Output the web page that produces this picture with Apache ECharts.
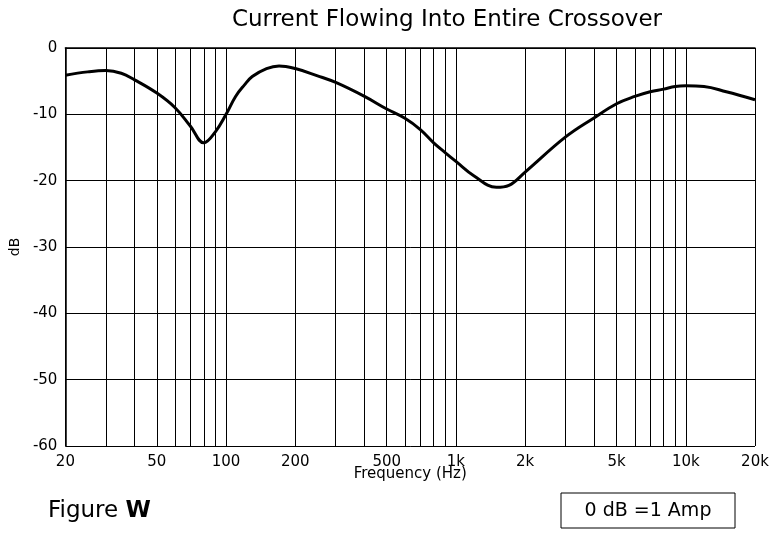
<!DOCTYPE html>
<html lang="en">
<head>
<meta charset="UTF-8" />
<title>Current Flowing Into Entire Crossover</title>
<script src="https://cdn.jsdelivr.net/npm/echarts@6/dist/echarts.min.js"></script>
<style>
  html, body { margin: 0; padding: 0; background: #fff; }
  #main { width: 770px; height: 544px; }
</style>
</head>
<body>
<div id="main"></div>
<script>
// frequency (Hz) and level (dB)
var freqs = [20, 25, 30, 35, 40, 50, 60, 70, 80, 90, 100, 110, 120, 130, 150, 170, 200, 250, 300, 400,
  500, 600, 700, 800, 900, 1000, 1200, 1500, 1700, 2000, 3000, 4000, 5000, 6000, 7000, 8000, 9000,
  10000, 12000, 15000, 20000];
var levels = [-4.1, -3.6, -3.4, -3.8, -4.8, -6.8, -9.0, -11.8, -14.3, -12.6, -10.0, -7.3, -5.6, -4.3,
  -3.1, -2.7, -3.1, -4.2, -5.2, -7.3, -9.2, -10.6, -12.3, -14.3, -15.8, -17.1, -19.3, -21.0, -20.7,
  -18.7, -13.4, -10.5, -8.4, -7.3, -6.6, -6.2, -5.8, -5.7, -5.8, -6.6, -7.8];

// vertical grid lines (1..9 per decade) and the ones that carry a label
var gridFreqs = [20, 30, 40, 50, 60, 70, 80, 90, 100, 200, 300, 400, 500, 600, 700, 800, 900,
  1000, 2000, 3000, 4000, 5000, 6000, 7000, 8000, 9000, 10000, 20000];
var labelFreqs = [20, 50, 100, 200, 500, 1000, 2000, 5000, 10000, 20000];

var yMin = -60, yMax = 0, yStep = 10;

var FONT = "DejaVu Sans";

function fmtFreq(f) {
  return f >= 1000 ? f / 1000 + "k" : String(f);
}

var curve = [];
for (var i = 0; i < freqs.length; i++) {
  curve.push([freqs[i], levels[i]]);
}

var gridLines = gridFreqs.map(function (f) {
  return {
    xAxis: f,
    label: { show: labelFreqs.indexOf(f) >= 0 }
  };
});

var myChart = echarts.init(document.getElementById("main"));
var option = {
  backgroundColor: "#fff",
  animation: false,
  grid: { left: 65, right: 15, top: 48, bottom: 98 },
  xAxis: {
    type: "log",
    logBase: 10,
    min: 20,
    max: 20000,
    axisLine: { show: true, lineStyle: { color: "#000", width: 1.5 } },
    axisTick: { show: false },
    axisLabel: { show: false },
    splitLine: { show: false },
    name: "Frequency (Hz)",
    nameLocation: "middle",
    nameGap: 21,
    nameTextStyle: { color: "#000", fontFamily: FONT, fontSize: 15 }
  },
  yAxis: {
    type: "value",
    min: yMin,
    max: yMax,
    interval: yStep,
    axisLine: { show: true, lineStyle: { color: "#000", width: 1.5 } },
    axisTick: { show: false },
    axisLabel: { color: "#000", fontFamily: FONT, fontSize: 15, margin: 8 },
    splitLine: { show: true, lineStyle: { color: "#000", width: 1 } },
    name: "dB",
    nameLocation: "middle",
    nameRotate: 90,
    nameGap: 40,
    nameTextStyle: { color: "#000", fontFamily: FONT, fontSize: 14 }
  },
  series: [
    {
      // only carries the vertical grid lines + x labels
      type: "line",
      data: [],
      z: 1,
      markLine: {
        silent: true,
        symbol: "none",
        animation: false,
        lineStyle: { color: "#000", width: 1, type: "solid" },
        label: {
          position: "start",
          distance: 9,
          color: "#000",
          fontFamily: FONT,
          fontSize: 15,
          formatter: function (p) { return fmtFreq(p.value); }
        },
        data: gridLines
      }
    },
    {
      name: "current",
      type: "line",
      z: 5,
      smooth: 0.4,
      symbol: "none",
      lineStyle: { color: "#000", width: 3 },
      data: curve
    }
  ],
  graphic: [
    {
      type: "text",
      x: 447,
      y: 20,
      style: {
        text: "Current Flowing Into Entire Crossover",
        fontFamily: FONT,
        fontSize: 23,
        fill: "#000",
        align: "center",
        verticalAlign: "middle"
      }
    },
    {
      type: "text",
      x: 48,
      y: 511,
      style: {
        text: "Figure {b|W}",
        fontFamily: FONT,
        fontSize: 23,
        fill: "#000",
        verticalAlign: "middle",
        rich: { b: { fontFamily: FONT, fontSize: 23, fontWeight: "bold", fill: "#000" } }
      }
    },
    {
      type: "rect",
      shape: { x: 561, y: 493, width: 174, height: 35 },
      style: { fill: "#fff", stroke: "#000", lineWidth: 1 }
    },
    {
      type: "text",
      x: 648,
      y: 511,
      z: 10,
      style: {
        text: "0 dB =1 Amp",
        fontFamily: FONT,
        fontSize: 19,
        fill: "#000",
        align: "center",
        verticalAlign: "middle"
      }
    }
  ]
};
option && myChart.setOption(option);
</script>
</body>
</html>
